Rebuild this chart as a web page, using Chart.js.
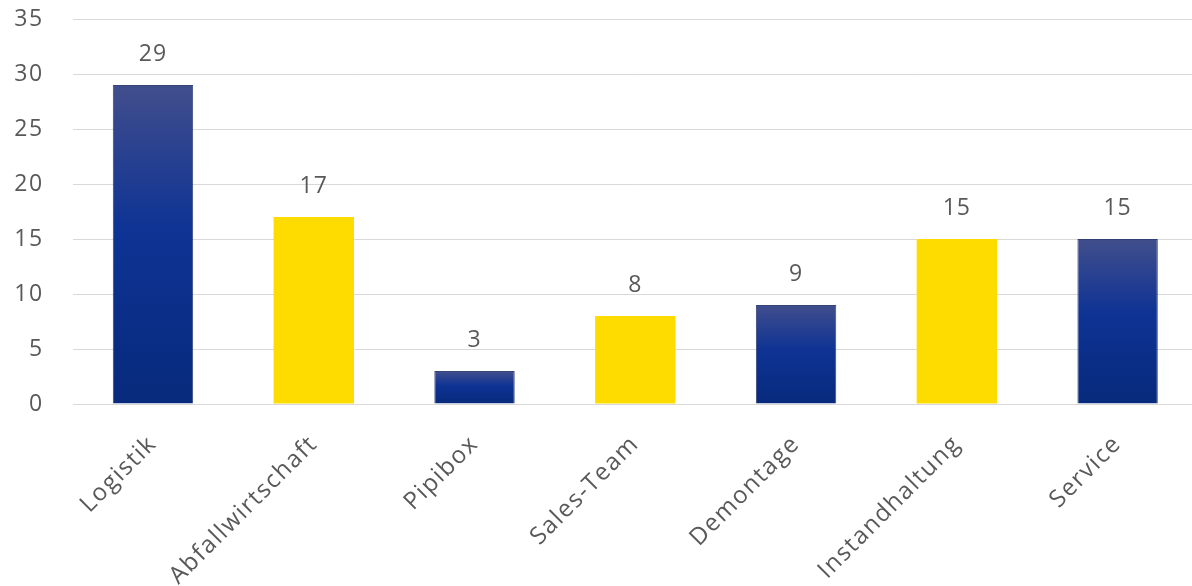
<!DOCTYPE html>
<html>
<head>
<meta charset="utf-8">
<script src="https://cdn.jsdelivr.net/npm/chart.js@4/dist/chart.umd.min.js"></script>
<style>
  html, body { margin: 0; padding: 0; background: #ffffff; overflow: hidden; }
  #wrap { position: relative; width: 1200px; height: 586px; }
</style>
</head>
<body>
<div id="wrap"><canvas id="chart"></canvas></div>
<script>
// Departments and headcount per department
const categories = ['Logistik', 'Abfallwirtschaft', 'Pipibox', 'Sales-Team', 'Demontage', 'Instandhaltung', 'Service'];
const counts = [29, 17, 3, 8, 9, 15, 15];
// Fill style per bar: navy gradient or plain gold
const fillKeys = ['navy', 'gold', 'navy', 'gold', 'navy', 'gold', 'navy'];
// Value axis
const yMin = 0;
const yMax = 35;
const yStep = 5;

const TEXT = '#595959';
const GRID = '#d9d9d9';
const GOLD = '#FEDC00';
const FONT = '"Open Sans", "Noto Sans", sans-serif';

function navyGradient(ctx) {
  const chart = ctx.chart;
  if (!chart.chartArea) return '#0c3090';
  const y = chart.scales.y;
  const top = y.getPixelForValue(ctx.raw);
  const bottom = y.getPixelForValue(0);
  if (!isFinite(top) || !isFinite(bottom) || top === bottom) return '#0c3090';
  const g = chart.ctx.createLinearGradient(0, top, 0, bottom);
  g.addColorStop(0, '#414e8c');
  g.addColorStop(0.45, '#0e3394');
  g.addColorStop(1, '#072a7c');
  return g;
}

// Value labels above each bar
const valueLabels = {
  id: 'valueLabels',
  afterDatasetsDraw(chart) {
    const c = chart.ctx;
    const meta = chart.getDatasetMeta(0);
    c.save();
    c.letterSpacing = '1px';
    c.font = '23px ' + FONT;
    c.fillStyle = TEXT;
    c.textAlign = 'center';
    c.textBaseline = 'middle';
    meta.data.forEach((bar, i) => {
      c.fillText(String(counts[i]), bar.x, bar.y - 31);
    });
    c.restore();
  }
};

// Slightly wider tracking for all chart text
const tracking = {
  id: 'tracking',
  beforeDraw(chart) { chart.ctx.letterSpacing = '1.5px'; }
};

new Chart(document.getElementById('chart'), {
  type: 'bar',
  data: {
    labels: categories,
    datasets: [{
      data: counts,
      backgroundColor: (ctx) => fillKeys[ctx.dataIndex] === 'gold' ? GOLD : navyGradient(ctx),
      borderColor: (ctx) => fillKeys[ctx.dataIndex] === 'gold' ? GOLD : 'rgba(20,35,95,0.85)',
      borderWidth: (ctx) => fillKeys[ctx.dataIndex] === 'gold' ? 0 : 1,
      categoryPercentage: 1,
      barPercentage: 0.5
    }]
  },
  options: {
    responsive: true,
    maintainAspectRatio: false,
    animation: false,
    layout: { padding: { top: 19, right: 2, left: 0, bottom: 0 } },
    plugins: {
      legend: { display: false },
      tooltip: { enabled: false },
      title: { display: false }
    },
    scales: {
      x: {
        grid: { display: false, drawTicks: false },
        border: { display: false },
        ticks: {
          color: TEXT,
          font: { family: FONT, size: 24 },
          minRotation: 45,
          maxRotation: 45,
          padding: 26,
          autoSkip: false
        },
        afterFit(scale) { scale.height = 182; }
      },
      y: {
        min: yMin,
        max: yMax,
        grid: { color: GRID, lineWidth: 1, drawTicks: false },
        border: { display: false },
        ticks: {
          stepSize: yStep,
          color: TEXT,
          font: { family: FONT, size: 23 },
          padding: 29
        },
        afterFit(scale) {
          scale.width = 72.6;
          scale.paddingTop = 0;
          scale.paddingBottom = 0;
        }
      }
    }
  },
  plugins: [tracking, valueLabels]
});
</script>
</body>
</html>
